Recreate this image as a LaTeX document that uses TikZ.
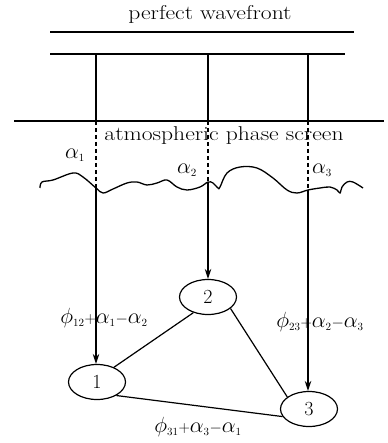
\RequirePackage{fix-cm}
\documentclass[tikz,border=0pt]{standalone}
\usepackage{graphicx}
\usetikzlibrary{shapes.geometric,arrows.meta}
\newcommand{\widetxt}[1]{\scalebox{1.18}[1]{#1}}
\newcommand{\myal}[1]{\alpha_{\scriptscriptstyle #1}}
\newcommand{\myph}[1]{\phi_{\scriptscriptstyle #1}}
\newcommand{\mypl}{\mathord{\scalebox{0.72}{$+$}}}
\newcommand{\mymi}{\mathord{\scalebox{0.72}{$-$}}}
\begin{document}
\begin{tikzpicture}[x=1pt,y=-1pt,line width=1.2pt,
  every node/.style={font=\fontsize{20}{24}\selectfont},
  station/.style={ellipse,draw,line width=1.2pt,minimum width=57pt,minimum height=35pt,inner sep=0pt},
  lbl/.style={inner sep=0pt},
  frm/.style={inner sep=0pt,font=\fontsize{22}{26}\selectfont},
  arr/.style={-{Stealth[length=10pt,width=6.5pt]}},
  dsh/.style={dash pattern=on 4pt off 3pt}]
\useasboundingbox (0,0) rectangle (387,443);
% horizontal lines
\coordinate (a1) at (50,32); \coordinate (a2) at (354,32);
\coordinate (b1) at (50,54); \coordinate (b2) at (345,54);
\coordinate (c1) at (14,121); \coordinate (c2) at (384,121);
\draw (a1) -- (a2);
\draw (b1) -- (b2);
\draw (c1) -- (c2);
\node[lbl] (pw) at (210,14) {\widetxt{perfect wavefront}};
% wavy screen
\draw[line width=1.3pt] plot[smooth,tension=0.6] coordinates {(40,188) (42,182) (53,180) (73,173) (83,177) (96,188) (103,193) (113,189) (127,183) (137,182) (147,185) (157,183) (167,180) (177,187) (187,190) (200,187) (208,182) (213,183) (218,188) (220,187) (227,173) (240,167) (257,168) (273,178) (287,190) (297,193) (308,190) (320,188) (330,187) (337,190) (340,193) (342,187) (347,182) (353,182) (363,188)};
% nodes
\node[station] (n1) at (97,382) {1};
\node[station] (n2) at (208,297) {2};
\node[station] (n3) at (309,409) {3};
% vertical beams
\coordinate (t1) at (96,54); \coordinate (s1) at (96,121); \coordinate (w1) at (96,188);
\coordinate (t2) at (208,54); \coordinate (s2) at (208,121); \coordinate (w2) at (208,182);
\coordinate (t3) at (308,54); \coordinate (s3) at (308,121); \coordinate (w3) at (308,190);
\draw (t1) -- (s1); \draw[dsh] (s1) -- (w1); \draw[arr] (w1) -- (n1.north -| w1);
\draw (t2) -- (s2); \draw[dsh] (s2) -- (w2); \draw[arr] (w2) -- (n2.north);
\draw (t3) -- (s3); \draw[dsh] (s3) -- (w3); \draw[arr] (w3) -- (n3.north -| w3);
\node[lbl] (aps) at (224,136) {\widetxt{atmospheric phase screen}};
% alpha labels
\node[frm] (al1) at (75,155) {$\myal{1}$};
\node[frm] (al2) at (187,170) {$\myal{2}$};
\node[frm] (al3) at (322,170) {$\myal{3}$};
% triangle edges
\draw (n1.41) -- (n2.-133);
\draw (n2.-27) -- (n3.151);
\draw (n1.-35) -- (n3.-164);
% edge labels
\node[frm] (e12) at (104,318) {$\myph{12}\mypl\myal{1}\mymi\myal{2}$};
\node[frm] (e23) at (320,322) {$\myph{23}\mypl\myal{2}\mymi\myal{3}$};
\node[frm] (e31) at (198,427) {$\myph{31}\mypl\myal{3}\mymi\myal{1}$};
\end{tikzpicture}
\end{document}
